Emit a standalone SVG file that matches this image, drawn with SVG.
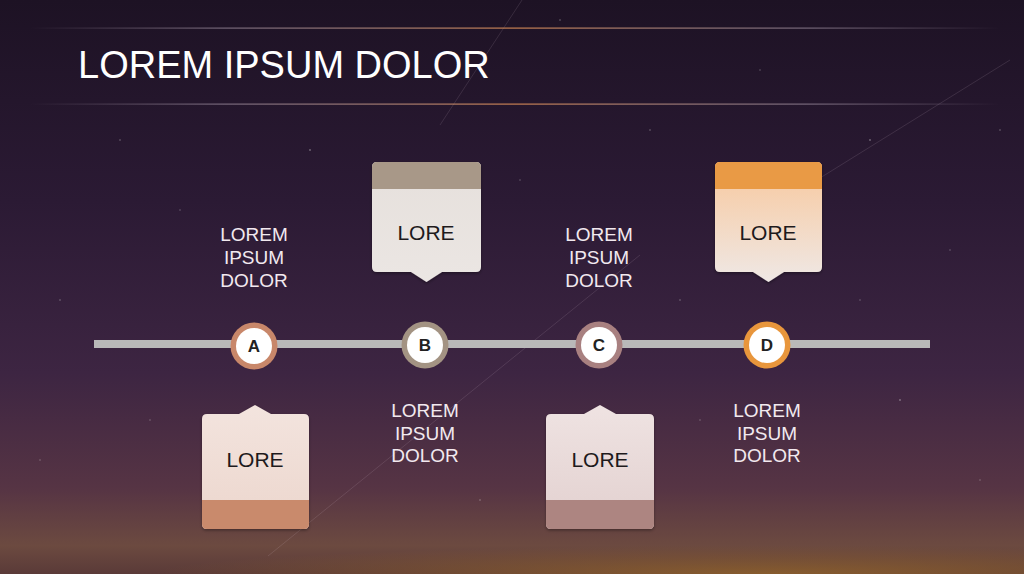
<svg xmlns="http://www.w3.org/2000/svg" width="1024" height="574" viewBox="0 0 1024 574">
<defs>
<linearGradient id="bg" x1="0" y1="0" x2="0" y2="1">
<stop offset="0" stop-color="#1d1224"/>
<stop offset="0.35" stop-color="#2b1a34"/>
<stop offset="0.65" stop-color="#3d2542"/>
<stop offset="0.85" stop-color="#563444"/>
<stop offset="0.95" stop-color="#6c4a40"/>
<stop offset="1" stop-color="#5a3a38"/>
</linearGradient>
<radialGradient id="glow" cx="0.75" cy="1" r="0.6" gradientTransform="translate(0 0) scale(1 0.35) translate(0 1.85)">
<stop offset="0" stop-color="#9a6a2a" stop-opacity="0.7"/>
<stop offset="1" stop-color="#9a6a2a" stop-opacity="0"/>
</radialGradient>
<linearGradient id="rule" x1="0" y1="0" x2="1" y2="0">
<stop offset="0" stop-color="#c8b8c8" stop-opacity="0"/>
<stop offset="0.2" stop-color="#c8b8c8" stop-opacity="0.5"/>
<stop offset="0.5" stop-color="#d88a55" stop-opacity="0.9"/>
<stop offset="0.8" stop-color="#c8b8c8" stop-opacity="0.5"/>
<stop offset="1" stop-color="#c8b8c8" stop-opacity="0"/>
</linearGradient>
<linearGradient id="bodyA" x1="0" y1="0" x2="0" y2="1"><stop offset="0" stop-color="#f3e4de"/><stop offset="1" stop-color="#ecd6cd"/></linearGradient>
<linearGradient id="bodyB" x1="0" y1="0" x2="0" y2="1"><stop offset="0" stop-color="#e6e0dc"/><stop offset="1" stop-color="#ebe6e3"/></linearGradient>
<linearGradient id="bodyC" x1="0" y1="0" x2="0" y2="1"><stop offset="0" stop-color="#efe3e2"/><stop offset="1" stop-color="#e2d0cf"/></linearGradient>
<linearGradient id="bodyD" x1="0" y1="0" x2="0" y2="1"><stop offset="0.22" stop-color="#f6cfad"/><stop offset="1" stop-color="#efe8e5"/></linearGradient>
<filter id="sh" x="-20%" y="-20%" width="140%" height="140%">
<feDropShadow dx="0" dy="1.5" stdDeviation="1.5" flood-color="#000" flood-opacity="0.35"/>
</filter>
</defs>
<style>
.title{font-family:"Liberation Sans",Arial,sans-serif;font-size:38px;fill:#ffffff}
.lbl{font-family:"Liberation Sans",Arial,sans-serif;font-size:19px;fill:#f2e9ef;text-anchor:middle}
.box{font-family:"Liberation Sans",Arial,sans-serif;font-size:21px;fill:#1e1a1c;text-anchor:middle}
.let{font-family:"Liberation Sans",Arial,sans-serif;font-size:17px;font-weight:bold;fill:#222;text-anchor:middle}
.ring{stroke:none}
.dot{fill:#ffffff}
.star{fill:#ffffff;opacity:0.35}
.streak{stroke:#e8d0e0;stroke-width:1;opacity:0.13;fill:none}
</style>

<!-- background -->
<rect width="1024" height="574" fill="url(#bg)"/>
<rect y="440" width="1024" height="134" fill="url(#glow)"/>
<g>
<line class="streak" x1="268" y1="556" x2="640" y2="255"/>
<line class="streak" x1="820" y1="178" x2="1010" y2="60"/>
<line class="streak" x1="522" y1="0" x2="440" y2="125"/>
</g>
<g>
<circle class="star" cx="120" cy="140" r="0.8"/><circle class="star" cx="180" cy="210" r="0.7"/>
<circle class="star" cx="310" cy="150" r="0.9"/><circle class="star" cx="520" cy="180" r="0.7"/>
<circle class="star" cx="650" cy="130" r="0.8"/><circle class="star" cx="870" cy="140" r="0.9"/>
<circle class="star" cx="950" cy="250" r="0.7"/><circle class="star" cx="60" cy="300" r="0.8"/>
<circle class="star" cx="150" cy="420" r="0.7"/><circle class="star" cx="480" cy="500" r="0.8"/>
<circle class="star" cx="700" cy="420" r="0.7"/><circle class="star" cx="900" cy="400" r="0.9"/>
<circle class="star" cx="980" cy="480" r="0.7"/><circle class="star" cx="360" cy="60" r="0.8"/>
<circle class="star" cx="760" cy="70" r="0.7"/><circle class="star" cx="560" cy="20" r="0.8"/>
<circle class="star" cx="1000" cy="130" r="0.8"/><circle class="star" cx="40" cy="460" r="0.7"/>
<circle class="star" cx="680" cy="300" r="0.8"/><circle class="star" cx="860" cy="300" r="0.7"/>
</g>

<!-- header -->
<rect x="30" y="27.5" width="970" height="1.2" fill="url(#rule)"/>
<rect x="30" y="103.5" width="970" height="1.2" fill="url(#rule)"/>
<text class="title" x="78" y="78">LOREM IPSUM DOLOR</text>

<!-- connectors -->
<g id="connectors">
<rect x="94" y="340" width="836" height="8" fill="#b9b9b9"/>
</g>

<!-- node A -->
<g id="nodeA">
<circle class="ring" cx="254" cy="346" r="23.5" fill="#c8876a"/>
<circle class="dot" cx="254" cy="346" r="18"/>
<text class="let" x="254" y="352">A</text>
<g filter="url(#sh)">
<path d="M207 414 L239 414 L255 405 L271 414 L304 414 Q309 414 309 419 L309 524 Q309 529 304 529 L207 529 Q202 529 202 524 L202 419 Q202 414 207 414 Z" fill="url(#bodyA)"/>
<path d="M202 500 L309 500 L309 524 Q309 529 304 529 L207 529 Q202 529 202 524 Z" fill="#c98a6c"/>
</g>
<text class="box" x="255" y="467">LORE</text>
<text class="lbl" x="254" y="241">LOREM</text>
<text class="lbl" x="254" y="264">IPSUM</text>
<text class="lbl" x="254" y="287">DOLOR</text>
</g>

<!-- node B -->
<g id="nodeB">
<circle class="ring" cx="425" cy="345" r="23.5" fill="#a39383"/>
<circle class="dot" cx="425" cy="345" r="18"/>
<text class="let" x="425" y="351">B</text>
<g filter="url(#sh)">
<path d="M377 162 L476 162 Q481 162 481 167 L481 267 Q481 272 476 272 L442 272 L426.5 282 L411 272 L377 272 Q372 272 372 267 L372 167 Q372 162 377 162 Z" fill="url(#bodyB)"/>
<path d="M372 189 L372 167 Q372 162 377 162 L476 162 Q481 162 481 167 L481 189 Z" fill="#a89888"/>
</g>
<text class="box" x="426" y="240">LORE</text>
<text class="lbl" x="425" y="417">LOREM</text>
<text class="lbl" x="425" y="440">IPSUM</text>
<text class="lbl" x="425" y="462">DOLOR</text>
</g>

<!-- node C -->
<g id="nodeC">
<circle class="ring" cx="599" cy="345" r="23.5" fill="#a88080"/>
<circle class="dot" cx="599" cy="345" r="18"/>
<text class="let" x="599" y="351">C</text>
<g filter="url(#sh)">
<path d="M551 414 L584 414 L600 405 L616 414 L649 414 Q654 414 654 419 L654 524 Q654 529 649 529 L551 529 Q546 529 546 524 L546 419 Q546 414 551 414 Z" fill="url(#bodyC)"/>
<path d="M546 500 L654 500 L654 524 Q654 529 649 529 L551 529 Q546 529 546 524 Z" fill="#ad8581"/>
</g>
<text class="box" x="600" y="467">LORE</text>
<text class="lbl" x="599" y="241">LOREM</text>
<text class="lbl" x="599" y="264">IPSUM</text>
<text class="lbl" x="599" y="287">DOLOR</text>
</g>

<!-- node D -->
<g id="nodeD">
<circle class="ring" cx="767" cy="345" r="23.5" fill="#e8963c"/>
<circle class="dot" cx="767" cy="345" r="18"/>
<text class="let" x="767" y="351">D</text>
<g filter="url(#sh)">
<path d="M720 162 L817 162 Q822 162 822 167 L822 267 Q822 272 817 272 L784 272 L768.5 282 L753 272 L720 272 Q715 272 715 267 L715 167 Q715 162 720 162 Z" fill="url(#bodyD)"/>
<path d="M715 189 L715 167 Q715 162 720 162 L817 162 Q822 162 822 167 L822 189 Z" fill="#e99a45"/>
</g>
<text class="box" x="768" y="240">LORE</text>
<text class="lbl" x="767" y="417">LOREM</text>
<text class="lbl" x="767" y="440">IPSUM</text>
<text class="lbl" x="767" y="462">DOLOR</text>
</g>
</svg>
